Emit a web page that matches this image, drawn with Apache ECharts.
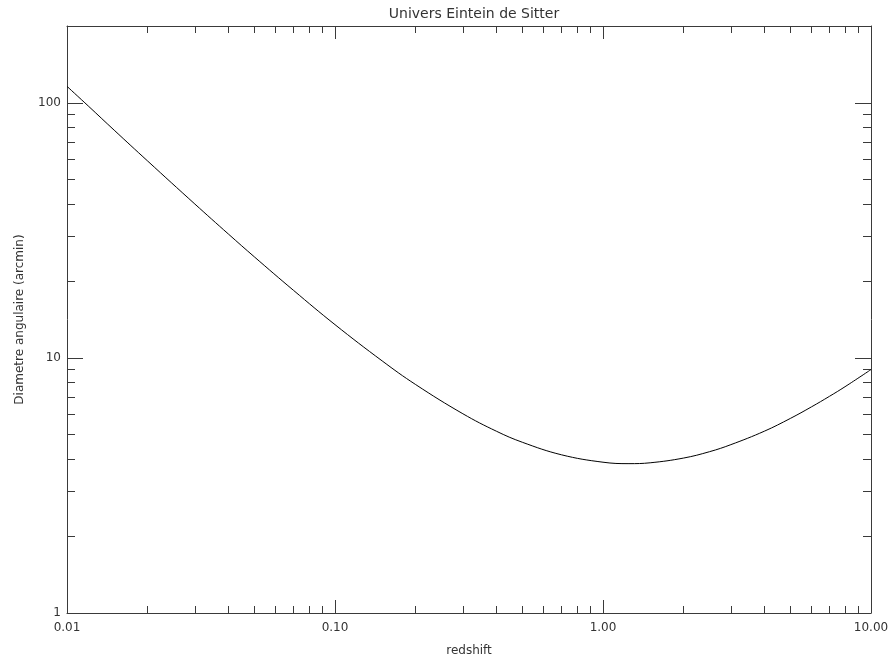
<!DOCTYPE html>
<html>
<head>
<meta charset="utf-8">
<script src="https://cdn.jsdelivr.net/npm/echarts@6/dist/echarts.min.js"></script>
<style>
html,body{margin:0;padding:0;background:#fff;}
#chart{width:893px;height:662px;}
</style>
</head>
<body>
<div id="chart"></div>
<script>
// Data
const redshift = [0.01, 0.012, 0.015, 0.02, 0.03, 0.04, 0.05, 0.07, 0.1, 0.15, 0.2, 0.3, 0.4, 0.5, 0.7, 1.0, 1.25, 1.5, 2, 2.5, 3, 4, 5, 6, 7, 8, 10];
const diameter = [116, 97.2, 78.1, 59.1, 40.1, 30.6, 24.9, 18.4, 13.5, 9.73, 7.86, 6.04, 5.16, 4.67, 4.17, 3.90, 3.85, 3.88, 4.05, 4.29, 4.57, 5.16, 5.79, 6.43, 7.07, 7.71, 9.0];

const xMajorTicks = [0.01, 0.1, 1, 10];
const xMinorTicks = [0.02,0.03,0.04,0.05,0.06,0.07,0.08,0.09,0.2,0.3,0.4,0.5,0.6,0.7,0.8,0.9,2,3,4,5,6,7,8,9];
const yMajorTicks = [1, 10, 100];
const yMinorTicks = [2,3,4,5,6,7,8,9,20,30,40,50,60,70,80,90];

const titleText = 'Univers Eintein de Sitter';
const xName = 'redshift';
const yName = 'Diametre angulaire (arcmin)';

const lineColor = '#3a3a3a';
const textColor = '#333';
const fontFamily = 'DejaVu Sans';

function xAxisDef(pos, ticks, len, showLine, showLabel) {
  return {
    type: 'log', logBase: 10, min: 0.01, max: 10, position: pos, gridIndex: 0,
    name: (pos === 'bottom' && showLabel) ? xName : '',
    nameLocation: 'middle', nameGap: 32,
    nameTextStyle: {color: textColor, fontSize: 12, fontFamily: fontFamily},
    axisLine: {show: showLine, lineStyle: {color: lineColor, width: 1}},
    axisTick: {show: true, inside: true, length: len, customValues: ticks, lineStyle: {color: lineColor, width: 1}},
    axisLabel: {show: showLabel, customValues: ticks, margin: 9, color: textColor, fontSize: 12, fontFamily: fontFamily,
      formatter: v => Number(v).toFixed(2)},
    splitLine: {show: false}
  };
}
function yAxisDef(pos, ticks, len, showLine, showLabel) {
  return {
    type: 'log', logBase: 10, min: 1, max: 200, position: pos, gridIndex: 0,
    name: (pos === 'left' && showLabel) ? yName : '',
    nameLocation: 'middle', nameGap: 41, nameRotate: 90,
    nameTextStyle: {color: textColor, fontSize: 12, fontFamily: fontFamily},
    axisLine: {show: showLine, lineStyle: {color: lineColor, width: 1}},
    axisTick: {show: true, inside: true, length: len, customValues: ticks, lineStyle: {color: lineColor, width: 1}},
    axisLabel: {show: showLabel, customValues: ticks, margin: 6, color: textColor, fontSize: 12, fontFamily: fontFamily,
      formatter: v => String(Math.round(Number(v)))},
    splitLine: {show: false}
  };
}

const chart = echarts.init(document.getElementById('chart'), null, {renderer: 'canvas'});
chart.setOption({
  animation: false,
  backgroundColor: '#fff',
  title: {
    text: titleText, left: 469, top: 2, textAlign: 'center',
    textStyle: {color: textColor, fontSize: 14, fontWeight: 'normal', fontFamily: fontFamily}
  },
  grid: {left: 67, right: 22, top: 26, bottom: 42, containLabel: false},
  xAxis: [
    xAxisDef('bottom', xMajorTicks, 13, true, true),
    xAxisDef('bottom', xMinorTicks, 7, false, false),
    xAxisDef('top', xMajorTicks, 13, true, false),
    xAxisDef('top', xMinorTicks, 7, false, false)
  ],
  yAxis: [
    yAxisDef('left', yMajorTicks, 16, true, true),
    yAxisDef('left', yMinorTicks, 8, false, false),
    yAxisDef('right', yMajorTicks, 16, true, false),
    yAxisDef('right', yMinorTicks, 8, false, false)
  ],
  series: [{
    type: 'line', xAxisIndex: 0, yAxisIndex: 0,
    data: redshift.map((z, i) => [z, diameter[i]]),
    smooth: 0.4, showSymbol: false, symbol: 'none',
    lineStyle: {color: '#000', width: 1}
  }]
});
</script>
</body>
</html>
